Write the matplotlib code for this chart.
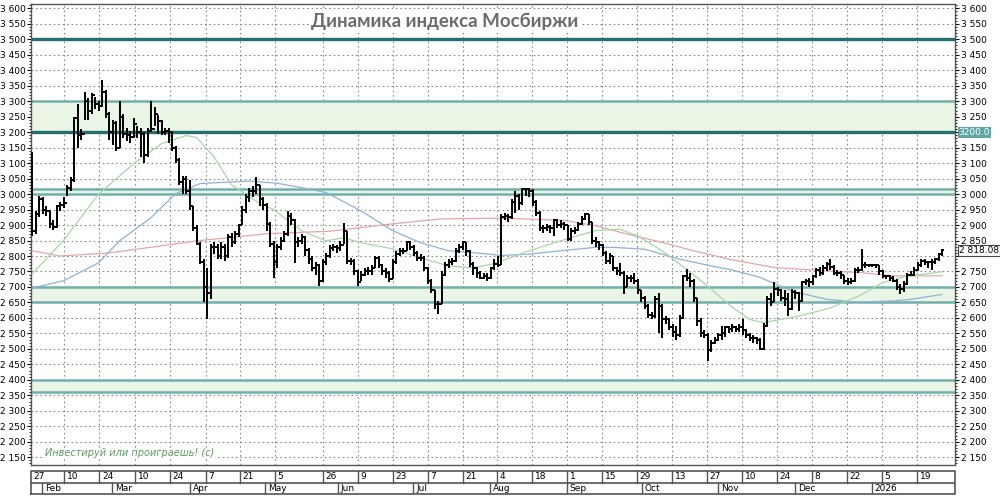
import numpy as np
import matplotlib
matplotlib.use("Agg")
import matplotlib.pyplot as plt
from matplotlib.collections import LineCollection
from matplotlib.ticker import MultipleLocator, FuncFormatter
import matplotlib.transforms as mtransforms

# daily bars, Jan 27 2025 .. Jan 28 2026 (trading-day index)
closes = [
    2880, 2935, 2985, 2950, 2945, 2905, 2895, 2960, 2965, 2970,
    3020, 3045, 3245, 3190, 3195, 3300, 3270, 3320, 3290, 3285,
    3330, 3260, 3200, 3230, 3150, 3250, 3195, 3190, 3185, 3225,
    3200, 3195, 3125, 3205, 3210, 3260, 3235, 3200, 3205, 3200,
    3150, 3110, 3040, 3050, 3010, 2960, 2890, 2840, 2780, 2700,
    2680, 2830, 2830, 2800, 2830, 2800, 2860, 2845, 2870, 2900,
    2950, 2990, 3010, 3010, 3030, 2985, 2965, 2905, 2840, 2780,
    2830, 2850, 2870, 2930, 2915, 2845, 2850, 2860, 2820, 2790,
    2760, 2770, 2720, 2780, 2800, 2825, 2830, 2825, 2835, 2880,
    2785, 2785, 2750, 2715, 2740, 2750, 2752, 2760, 2795, 2770,
    2750, 2745, 2725, 2780, 2805, 2817, 2815, 2845, 2830, 2810,
    2795, 2795, 2760, 2720, 2690, 2645, 2645, 2740, 2770, 2780,
    2785, 2815, 2830, 2845, 2815, 2775, 2760, 2745, 2730, 2735,
    2730, 2760, 2775, 2770, 2925, 2930, 2925, 2975, 2995, 2970,
    3015, 3017, 3010, 2975, 2940, 2890, 2890, 2895, 2890, 2915,
    2900, 2905, 2900, 2855, 2880, 2885, 2905, 2920, 2935, 2910,
    2850, 2845, 2835, 2810, 2785, 2800, 2760, 2750, 2745, 2700,
    2730, 2730, 2720, 2690, 2665, 2640, 2610, 2606, 2660, 2640,
    2595, 2595, 2570, 2555, 2545, 2600, 2735, 2730, 2720, 2665,
    2590, 2550, 2545, 2495, 2520, 2530, 2545, 2550, 2570, 2565,
    2570, 2565, 2570, 2560, 2545, 2535, 2535, 2530, 2500, 2575,
    2660, 2650, 2695, 2690, 2665, 2660, 2630, 2685, 2680, 2655,
    2715, 2720, 2715, 2735, 2755, 2745, 2760, 2775, 2765, 2745,
    2745, 2740, 2720, 2715, 2720, 2755, 2755, 2770, 2770, 2770,
    2770, 2770, 2750, 2735, 2735, 2730, 2720, 2700, 2695, 2710,
    2740, 2740, 2755, 2770, 2785, 2780, 2780, 2780, 2790, 2805,
    2818.08,
]
highs = [
    3135, 2945, 2995, 2990, 2960, 2950, 2915, 2965, 2975, 2990,
    3030, 3055, 3250, 3290, 3210, 3330, 3310, 3325, 3315, 3300,
    3367, 3335, 3265, 3240, 3235, 3300, 3260, 3215, 3205, 3247,
    3220, 3215, 3200, 3215, 3302, 3280, 3255, 3240, 3215, 3215,
    3205, 3155, 3115, 3060, 3060, 3045, 2960, 2900, 2845, 2790,
    2760, 2840, 2845, 2840, 2845, 2840, 2870, 2875, 2880, 2905,
    2960, 3000, 3020, 3025, 3054, 3030, 2990, 2970, 2910, 2850,
    2840, 2860, 2880, 2945, 2940, 2920, 2860, 2870, 2865, 2825,
    2800, 2780, 2775, 2790, 2810, 2835, 2840, 2835, 2850, 2908,
    2880, 2795, 2790, 2755, 2750, 2760, 2765, 2770, 2800, 2800,
    2775, 2760, 2750, 2790, 2815, 2825, 2825, 2850, 2850, 2835,
    2815, 2805, 2800, 2765, 2725, 2690, 2655, 2750, 2780, 2790,
    2795, 2825, 2840, 2850, 2845, 2820, 2780, 2765, 2750, 2745,
    2745, 2765, 2790, 2800, 2935, 2940, 2935, 2985, 3010, 3000,
    3020, 3020, 3020, 3015, 2980, 2945, 2900, 2905, 2900, 2920,
    2920, 2915, 2910, 2900, 2890, 2895, 2910, 2930, 2940, 2935,
    2910, 2860, 2850, 2840, 2815, 2810, 2800, 2765, 2779, 2750,
    2740, 2740, 2746, 2725, 2690, 2670, 2645, 2620, 2670, 2681,
    2645, 2605, 2600, 2580, 2575, 2610, 2740, 2757, 2745, 2725,
    2665, 2600, 2560, 2550, 2530, 2540, 2552, 2574, 2575, 2575,
    2580, 2575, 2580, 2596, 2565, 2550, 2545, 2540, 2535, 2585,
    2670, 2680, 2715, 2700, 2695, 2690, 2680, 2695, 2690, 2685,
    2720, 2725, 2730, 2740, 2760, 2765, 2770, 2780, 2790, 2770,
    2755, 2750, 2740, 2730, 2730, 2760, 2765, 2822, 2780, 2775,
    2775, 2775, 2770, 2755, 2740, 2740, 2735, 2725, 2710, 2720,
    2745, 2750, 2765, 2780, 2790, 2790, 2785, 2790, 2795, 2810,
    2822,
]
lows = [
    2865, 2870, 2925, 2935, 2930, 2890, 2885, 2890, 2945, 2955,
    2995, 3010, 3040, 3150, 3175, 3240, 3240, 3260, 3275, 3270,
    3280, 3245, 3175, 3160, 3140, 3150, 3180, 3170, 3165, 3180,
    3180, 3120, 3100, 3120, 3200, 3220, 3195, 3190, 3190, 3165,
    3140, 3100, 3030, 3000, 3000, 2950, 2880, 2835, 2775, 2650,
    2597, 2660, 2805, 2790, 2790, 2785, 2795, 2830, 2840, 2860,
    2900, 2940, 2975, 2990, 3000, 2960, 2950, 2880, 2830, 2730,
    2760, 2820, 2845, 2865, 2900, 2779, 2830, 2840, 2800, 2775,
    2750, 2740, 2704, 2715, 2770, 2795, 2815, 2810, 2815, 2840,
    2775, 2770, 2740, 2704, 2720, 2735, 2740, 2740, 2760, 2760,
    2740, 2730, 2715, 2725, 2775, 2800, 2805, 2815, 2820, 2800,
    2785, 2785, 2750, 2710, 2680, 2630, 2613, 2645, 2735, 2760,
    2770, 2780, 2810, 2820, 2800, 2765, 2740, 2730, 2725, 2725,
    2720, 2725, 2755, 2765, 2770, 2915, 2910, 2920, 2940, 2950,
    2965, 2995, 2990, 2960, 2930, 2880, 2875, 2880, 2875, 2865,
    2890, 2890, 2885, 2849, 2850, 2870, 2880, 2900, 2915, 2900,
    2840, 2830, 2820, 2800, 2775, 2775, 2750, 2740, 2735, 2676,
    2700, 2715, 2710, 2676, 2650, 2630, 2600, 2595, 2600, 2552,
    2535, 2580, 2560, 2540, 2530, 2540, 2595, 2720, 2700, 2650,
    2575, 2540, 2535, 2460, 2490, 2515, 2525, 2530, 2540, 2550,
    2555, 2555, 2555, 2545, 2535, 2525, 2520, 2515, 2495, 2495,
    2570, 2640, 2650, 2670, 2655, 2640, 2607, 2625, 2660, 2623,
    2650, 2705, 2700, 2705, 2730, 2735, 2740, 2750, 2755, 2740,
    2735, 2725, 2710, 2705, 2710, 2715, 2745, 2750, 2760, 2765,
    2765, 2760, 2740, 2730, 2725, 2720, 2715, 2690, 2677, 2685,
    2705, 2735, 2735, 2750, 2765, 2770, 2760, 2755, 2775, 2785,
    2800,
]

# moving averages (trading-day index, value)
green_idx = [0, 9, 19, 29, 37, 44, 47, 52, 57, 65, 69, 77, 84, 89, 94, 103, 111, 119, 126, 132,
             142, 151, 161, 168, 173, 180, 187, 193, 200, 205, 209, 219, 228, 237, 243, 249, 260]
green_ma = [2742, 2850, 3000, 3098, 3163, 3189, 3183, 3120, 3030, 2970, 2950, 2882, 2849, 2859, 2843,
            2823, 2794, 2768, 2762, 2775, 2817, 2849, 2882, 2887, 2865, 2817, 2757, 2703, 2635, 2595,
            2585, 2606, 2632, 2675, 2714, 2733, 2749]
blue_idx = [0, 9, 19, 25, 34, 41, 48, 62, 70, 77, 84, 94, 103, 111, 119, 127, 134, 142, 151, 161,
            166, 175, 185, 194, 200, 208, 217, 227, 236, 246, 251, 260]
blue_ma = [2697, 2720, 2778, 2849, 2924, 3001, 3034, 3042, 3035, 3021, 3005, 2946, 2882, 2843, 2817,
           2810, 2802, 2806, 2817, 2828, 2828, 2822, 2790, 2768, 2755, 2731, 2687, 2660, 2651, 2655,
           2660, 2676]
red_idx = [0, 8, 22, 37, 47, 56, 67, 85, 103, 117, 132, 140, 152, 161, 170, 180, 189, 199, 212, 227,
           236, 246, 260]
red_ma = [2817, 2800, 2810, 2833, 2849, 2859, 2872, 2880, 2904, 2920, 2922, 2920, 2915, 2898, 2871,
          2844, 2817, 2790, 2763, 2752, 2747, 2736, 2736]

day_ticks = [9.2, 19.2, 29.4, 39.4, 49.6, 59.4, 69.4, 83.1, 93.1, 103.1, 113.1, 123.1, 132.8,
             142.8, 152.8, 162.8, 172.8, 182.8, 192.8, 202.8, 212.8, 222.8, 232.8, 242.8, 252.8]
day_labels = ["10", "24", "10", "24", "7", "21", "5", "26", "9", "23", "7", "21", "4",
              "18", "1", "15", "29", "13", "27", "10", "24", "8", "22", "5", "19"]
month_starts = [2.8, 22.8, 45.1, 66.6, 87.3, 108.9, 130.9, 152.8, 174.2, 196.1, 218.0, 239.9]
month_labels = ["Feb", "Mar", "Apr", "May", "Jun", "Jul", "Aug", "Sep", "Oct", "Nov", "Dec", "2026"]

bands = [(3200, 3300), (3000, 3015), (2650, 2700), (2360, 2400)]
strong_levels = [3500, 3200]

X0, X1 = -0.3, 263.7

fig = plt.figure(figsize=(10, 5), dpi=100)
ax = fig.add_axes([0.031, 0.070, 0.924, 0.922])
ax.set_xlim(X0, X1)
ax.set_ylim(2125, 3614)

# grid
grid_kw = dict(color="#8c8c8c", lw=0.8, ls=(0, (1.5, 2.5)), zorder=1)
for v in range(2150, 3601, 50):
    ax.axhline(v, **grid_kw)
for d in day_ticks:
    ax.axvline(d, **grid_kw)

# support / resistance zones
for lo, hi in bands:
    ax.axhspan(lo, hi, color="#eaf5e6", zorder=1.5, lw=0)
    ax.axhline(lo, color="#72b0ae", lw=1.8, zorder=2)
    ax.axhline(hi, color="#72b0ae", lw=1.8, zorder=2)
for v in strong_levels:
    ax.axhline(v, color="#23706f", lw=2.4, zorder=2.1)

# moving averages
ax.plot(red_idx, red_ma, color="#e6a6a6", lw=0.9, zorder=3)
ax.plot(blue_idx, blue_ma, color="#8fb2d6", lw=0.9, zorder=3)
ax.plot(green_idx, green_ma, color="#a6d8a6", lw=0.9, zorder=3)

# bars
segs = []
for i, (c, h, l) in enumerate(zip(closes, highs, lows)):
    o = closes[i - 1] if i > 0 else c
    segs.append([(i, l), (i, h)])
    segs.append([(i - 0.5, o), (i, o)])
    segs.append([(i, c), (i + 0.5, c)])
ax.add_collection(LineCollection(segs, colors="black", linewidths=1.4, zorder=4))

# axes look
for s in ax.spines.values():
    s.set_color("#555555")
    s.set_linewidth(1.0)
ax.set_xticks([])
ax.yaxis.set_major_locator(MultipleLocator(50))
ax.yaxis.set_minor_locator(MultipleLocator(10))
ax.yaxis.set_major_formatter(FuncFormatter(lambda v, p: f"{v:,.0f}".replace(",", " ")))
ax.tick_params(axis="y", which="both", left=True, right=True, labelleft=True, labelright=True,
               direction="out", labelsize=6.5, pad=1)
ax.tick_params(axis="y", which="major", length=3, width=0.8)
ax.tick_params(axis="y", which="minor", length=1.5, width=0.6)

# right-side labels at 3200 and 2800 are covered by the value boxes
fig.canvas.draw()
for tick in ax.yaxis.get_major_ticks():
    if round(tick.get_loc()) in (3200, 2800):
        tick.label2.set_visible(False)

# title
fig.text(0.445, 0.958, "Динамика индекса Мосбиржи", ha="center", va="center",
         fontsize=13.5, fontweight="bold", family="Lato", color="#6c6c6c",
         bbox=dict(facecolor="white", edgecolor="none", pad=1.5), zorder=10)

ax.text(3.7, 2163, "Инвестируй или проиграешь! (с)", fontsize=7, style="italic",
        color="#5c9c5c", va="center", ha="left",
        bbox=dict(facecolor="white", edgecolor="none", pad=0.3), zorder=5)

trans = mtransforms.blended_transform_factory(ax.transAxes, ax.transData)
ax.text(1.004, 3200, "3200.0", transform=trans, fontsize=6.5, va="center", ha="left",
        color="white", bbox=dict(facecolor="#5fa6a6", edgecolor="none", pad=0.8), zorder=6,
        clip_on=False)
ax.text(1.004, closes[-1], "2 818.08", transform=trans, fontsize=6.5, va="center", ha="left",
        color="black", bbox=dict(facecolor="white", edgecolor="#444444", lw=0.8, pad=0.8),
        zorder=6, clip_on=False)

# date table under the chart
axd = fig.add_axes([0.031, 0.012, 0.924, 0.046])
axd.set_xlim(X0, X1)
axd.set_ylim(0, 2)
axd.axis("off")
tc = "#555555"
axd.plot([X0, X1, X1, X0, X0], [0, 0, 2, 2, 0], color=tc, lw=1.2, clip_on=False)
axd.plot([X0, X1], [1, 1], color=tc, lw=1.2)
axd.text(X0 + 0.8, 1.5, "27", fontsize=6.5, va="center", ha="left")
for d, lab in zip(day_ticks, day_labels):
    axd.plot([d, d], [1, 2], color=tc, lw=1)
    axd.text(d + 0.8, 1.5, lab, fontsize=6.5, va="center", ha="left")
for d, lab in zip(month_starts, month_labels):
    axd.plot([d, d], [0, 1], color=tc, lw=1)
    axd.text(d + 0.8, 0.45, lab, fontsize=6.5, va="center", ha="left")

fig.savefig("out.png", dpi=100)
